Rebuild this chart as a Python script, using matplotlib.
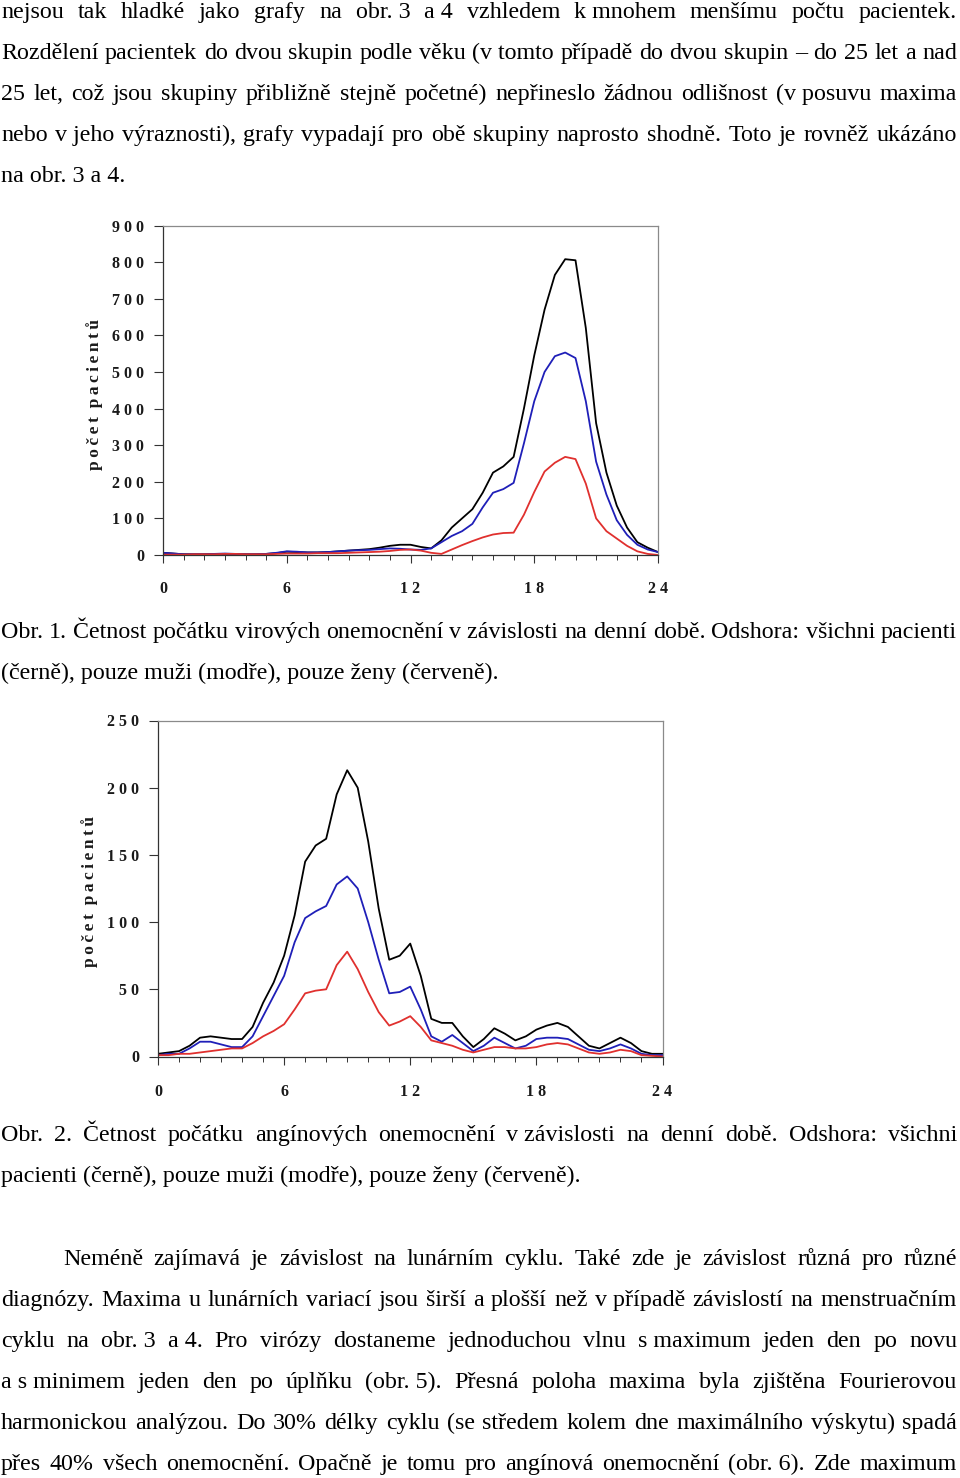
import matplotlib
matplotlib.use("Agg")
import matplotlib.pyplot as plt
from matplotlib.ticker import MultipleLocator

# --- data -----------------------------------------------------------------
hours = [0, 0.5, 1, 1.5, 2, 2.5, 3, 3.5, 4, 4.5, 5, 5.5, 6, 6.5, 7, 7.5, 8, 8.5,
         9, 9.5, 10, 10.5, 11, 11.5, 12, 12.5, 13, 13.5, 14, 14.5, 15, 15.5,
         16, 16.5, 17, 17.5, 18, 18.5, 19, 19.5, 20, 20.5, 21, 21.5, 22, 22.5,
         23, 23.5, 24]

# obr. 1 - viral infections
viral_all = [6, 4, 2, 2, 2, 3, 3, 3, 2, 2, 3, 5, 9, 8, 7, 7, 8, 10,
             12, 14, 16, 20, 25, 28, 28, 22, 18, 40, 75, 100, 125, 170,
             225, 242, 268, 400, 545, 670, 765, 808, 805, 620, 360, 225, 135, 75,
             35, 20, 8]
viral_men = [6, 4, 2, 2, 2, 3, 4, 3, 2, 2, 3, 6, 10, 9, 7, 7, 8, 10,
             12, 13, 14, 16, 18, 17, 15, 14, 18, 35, 52, 65, 85, 130,
             170, 180, 197, 305, 420, 500, 543, 553, 538, 420, 255, 165, 95, 55,
             28, 15, 8]
viral_women = [1, 1, 1, 2, 2, 2, 3, 3, 2, 2, 2, 3, 4, 4, 4, 5, 5, 5,
               6, 7, 8, 9, 11, 14, 15, 12, 6, 3, 15, 27, 38, 48,
               56, 60, 61, 110, 172, 228, 252, 268, 262, 195, 100, 65, 45, 25,
               10, 3, 0]

# obr. 2 - angina
angina_all = [2, 3, 4, 8, 14, 15, 14, 13, 13, 22, 40, 55, 75, 105, 145, 157, 162, 195,
              213, 200, 160, 110, 72, 75, 84, 60, 28, 25, 25, 15, 7, 13,
              21, 17, 12, 15, 20, 23, 25, 22, 15, 8, 6, 10, 14, 10,
              4, 2, 2]
angina_men = [1, 2, 2, 6, 11, 11, 9, 7, 7, 15, 30, 45, 60, 85, 103, 108, 112, 128,
              134, 125, 100, 72, 47, 48, 52, 35, 15, 11, 16, 10, 4, 8,
              14, 10, 6, 8, 13, 14, 14, 13, 9, 5, 4, 6, 9, 6,
              2, 1, 1]
angina_women = [1, 1, 2, 2, 3, 4, 5, 6, 6, 10, 15, 19, 24, 35, 47, 49, 50, 68,
                78, 65, 48, 33, 23, 26, 30, 22, 12, 10, 8, 5, 3, 5,
                7, 7, 6, 6, 7, 9, 10, 9, 6, 3, 2, 3, 5, 4,
                1, 0.5, 0]

# text of the page ('~' = non-breaking space)
para1 = ["nejsou tak hladké jako grafy na obr.~3 a~4 vzhledem k~mnohem menšímu počtu pacientek.",
         "Rozdělení pacientek do dvou skupin podle věku (v~tomto případě do dvou skupin – do 25 let a nad",
         "25 let, což jsou skupiny přibližně stejně početné) nepřineslo žádnou odlišnost (v~posuvu maxima",
         "nebo v~jeho výraznosti), grafy vypadají pro obě skupiny naprosto shodně. Toto je rovněž ukázáno",
         "na obr. 3 a 4."]
caption1 = ["Obr. 1. Četnost počátku virových onemocnění v~závislosti na denní době. Odshora: všichni pacienti",
            "(černě), pouze muži (modře), pouze ženy (červeně)."]
caption2 = ["Obr. 2. Četnost počátku angínových onemocnění v~závislosti na denní době. Odshora: všichni",
            "pacienti (černě), pouze muži (modře), pouze ženy (červeně)."]
para2 = ["Neméně zajímavá je závislost na lunárním cyklu. Také zde je závislost různá pro různé",
         "diagnózy. Maxima u lunárních variací jsou širší a plošší než v~případě závislostí na menstruačním",
         "cyklu na obr.~3 a~4. Pro virózy dostaneme jednoduchou vlnu s~maximum jeden den po novu",
         "a~s~minimem jeden den po úplňku (obr.~5). Přesná poloha maxima byla zjištěna Fourierovou",
         "harmonickou analýzou. Do 30% délky cyklu (se středem kolem dne maximálního výskytu) spadá",
         "přes 40% všech onemocnění. Opačně je tomu pro angínová onemocnění (obr.~6). Zde maximum"]
y_label = "počet pacientů"

W, H = 960, 1478
FS = 17.3
SERIF = ["Liberation Serif", "DejaVu Serif"]
plt.rcParams["font.family"] = SERIF

fig = plt.figure(figsize=(W / 100, H / 100), dpi=100)
renderer = fig.canvas.get_renderer()


def put_line(y, text, x0=1, x1=957, justify=True):
    # y = baseline in pixels from the top
    yf = 1 - y / H
    if not justify:
        fig.text(x0 / W, yf, text.replace("~", "\u00a0"), fontsize=FS, va="baseline")
        return
    words = [w.replace("~", "\u00a0") for w in text.split(" ")]
    objs = [fig.text(0, yf, w, fontsize=FS, va="baseline") for w in words]
    widths = [o.get_window_extent(renderer).width for o in objs]
    gap = (x1 - x0 - sum(widths)) / (len(words) - 1)
    x = x0
    for o, w in zip(objs, widths):
        o.set_x(x / W)
        x += w + gap


def put_block(lines, y0, last_justified=False, indent=0):
    for i, line in enumerate(lines):
        last = i == len(lines) - 1
        put_line(y0 + 41 * i, line, x0=1 + (indent if i == 0 else 0),
                 justify=(not last) or last_justified)


put_block(para1, 18)
put_block(caption1, 638)
put_block(caption2, 1141)
put_block(para2, 1265, last_justified=True, indent=62)


def spaced(s):
    return " ".join(str(s))


def letter_spaced(s):
    # thin spaces between letters, wider gap between words
    return "  ".join("\u2009".join(w) for w in s.split(" "))


TICKFONT = dict(fontweight="bold", fontsize=11.5, color="#1a1a1a")


def make_chart(rect, ymax, ystep, series, xpad, ylab_xy):
    left, top, right, bottom = rect
    ax = fig.add_axes([left / W, 1 - bottom / H, (right - left) / W, (bottom - top) / H])
    for vals, col in series:
        ax.plot(hours, vals, color=col, lw=1.3, solid_joinstyle="round")
    ax.set_xlim(0, 24)
    ax.set_ylim(0, ymax)
    ax.spines["top"].set_color("#8a8a8a")
    ax.spines["right"].set_color("#8a8a8a")
    ax.spines["left"].set_color("#333333")
    ax.spines["bottom"].set_color("#333333")
    for s in ax.spines.values():
        s.set_linewidth(0.9)
    ax.tick_params(axis="y", direction="out", length=6.5, width=0.8, pad=7,
                   color="#333333")
    ax.tick_params(axis="x", which="major", direction="out", length=5.8, width=0.8,
                   pad=xpad, color="#333333")
    ax.tick_params(axis="x", which="minor", direction="out", length=3.6, width=0.7,
                   color="#333333")
    ax.xaxis.set_minor_locator(MultipleLocator(1))
    yt = list(range(0, ymax + 1, ystep))
    ax.set_yticks(yt, labels=[spaced(v) for v in yt], **TICKFONT)
    xt = [0, 6, 12, 18, 24]
    ax.set_xticks(xt, labels=[spaced(v) for v in xt], **TICKFONT)
    fig.text(ylab_xy[0] / W, 1 - ylab_xy[1] / H, letter_spaced(y_label),
             rotation=90, ha="center", va="center", fontweight="bold",
             fontsize=12.5, color="#1a1a1a")
    return ax


make_chart((163, 225.5, 658, 555), 900, 100,
           [(viral_all, "black"), (viral_men, "#1f1fb8"), (viral_women, "#e0302e")],
           13, (95, 394))
make_chart((158, 720.5, 662.5, 1056.5), 250, 50,
           [(angina_all, "black"), (angina_men, "#1f1fb8"), (angina_women, "#e0302e")],
           14, (90, 892))

fig.savefig("out.png", dpi=100)
